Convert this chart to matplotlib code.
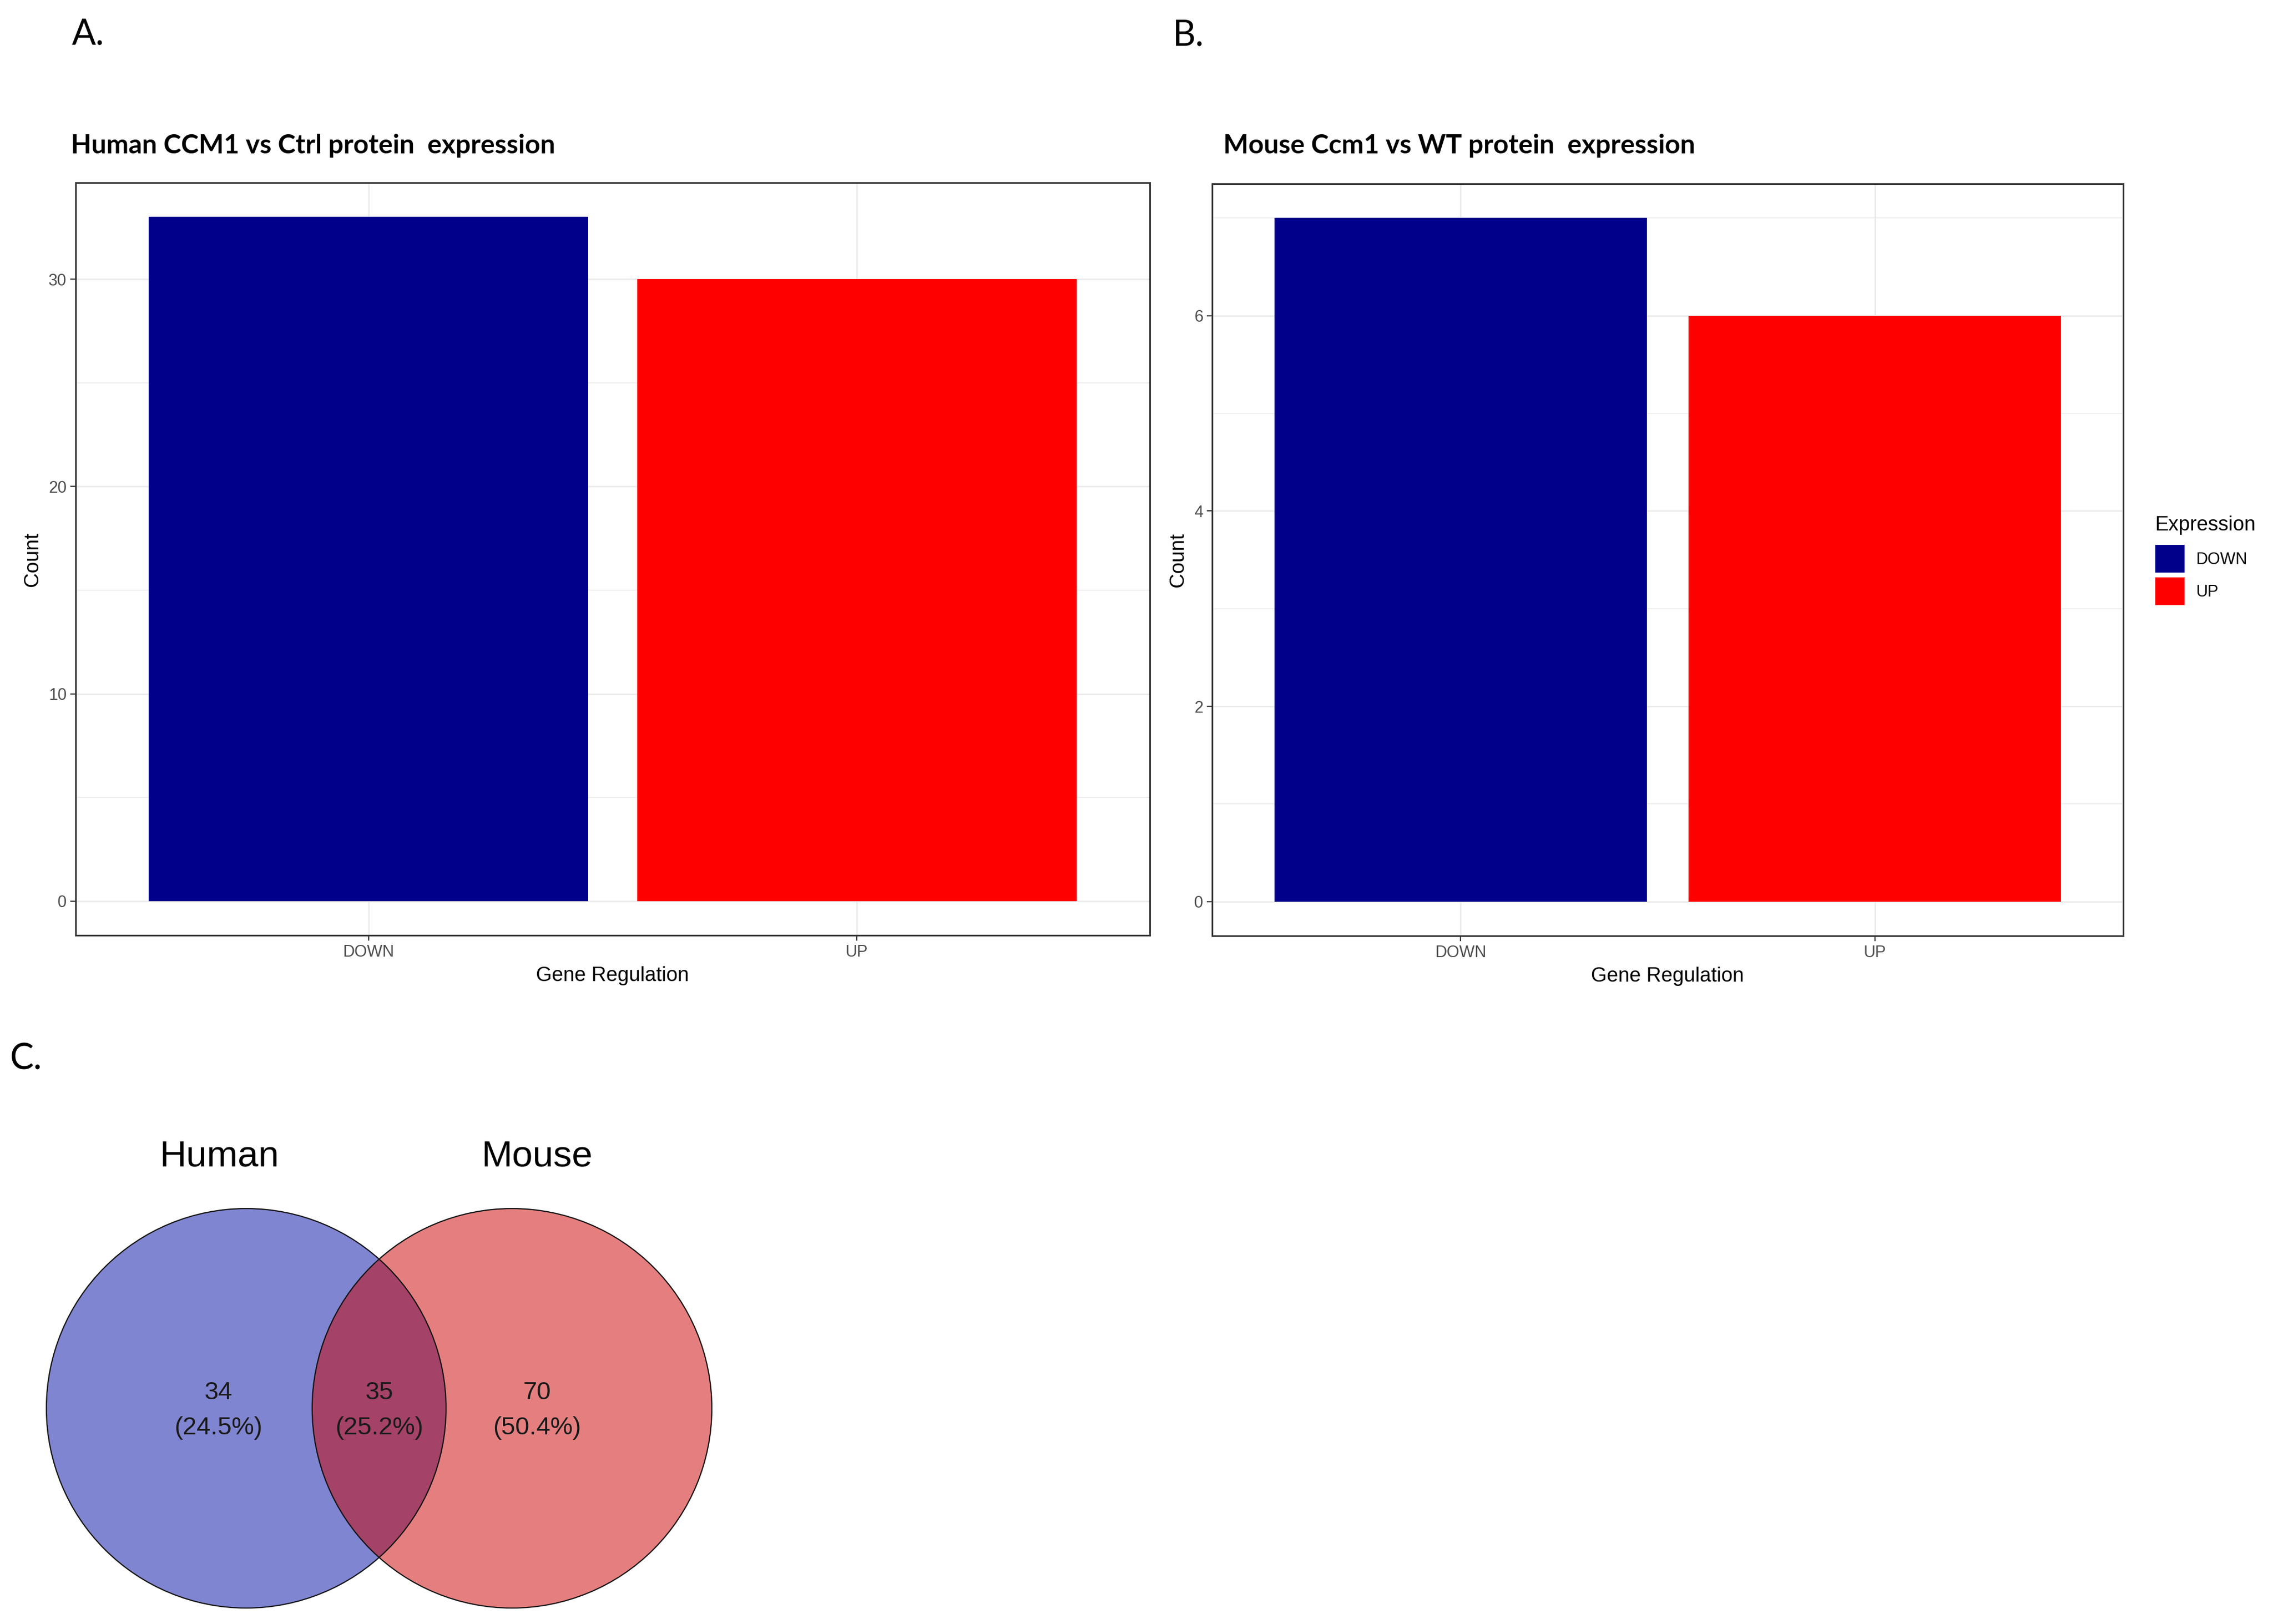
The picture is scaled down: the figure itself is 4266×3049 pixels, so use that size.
import numpy as np
import matplotlib.pyplot as plt
from matplotlib.patches import Circle
from matplotlib.ticker import MultipleLocator

categories = ["DOWN", "UP"]
human_counts = [33, 30]
mouse_counts = [7, 6]
bar_colors = ["#00008B", "#FF0000"]

venn_names = ["Human", "Mouse"]
venn_counts = [34, 35, 70]   # human only, shared, mouse only
venn_colors = ["#000CA2", "#CC0000"]

plt.rcParams['font.family'] = ['Liberation Sans', 'DejaVu Sans']

W, H = 4266, 3049
DPI = 100
fig = plt.figure(figsize=(W / DPI, H / DPI), dpi=DPI)


def px_axes(x0, y0, x1, y1):
    return fig.add_axes([x0 / W, 1 - y1 / H, (x1 - x0) / W, (y1 - y0) / H])


def bar_panel(ax, counts, step):
    x = np.arange(len(categories))
    bars = ax.bar(x, counts, width=0.9, color=bar_colors, zorder=3)
    top = max(counts)
    ax.set_xlim(-0.6, len(categories) - 1 + 0.6)
    ax.set_ylim(-0.05 * top, 1.05 * top)
    ax.set_xticks(x, categories)
    ax.yaxis.set_major_locator(MultipleLocator(step))
    ax.yaxis.set_minor_locator(MultipleLocator(step / 2))
    ax.grid(which='major', color='#EBEBEB', lw=2.0)
    ax.grid(which='minor', axis='y', color='#EBEBEB', lw=1.2)
    ax.set_axisbelow(True)
    ax.tick_params(which='major', length=7, width=1.6, color='#333333',
                   labelsize=22, labelcolor='#4D4D4D', pad=5)
    ax.tick_params(which='minor', length=0)
    for s in ax.spines.values():
        s.set_color('#333333')
        s.set_linewidth(2.2)
    ax.set_xlabel("Gene Regulation", fontsize=27.5, labelpad=8)
    ax.set_ylabel("Count", fontsize=27.5, labelpad=9)
    return bars


ax_a = px_axes(142, 343, 2158, 1756)
bar_panel(ax_a, human_counts, 10)

ax_b = px_axes(2275, 345, 3985, 1757)
bars_b = bar_panel(ax_b, mouse_counts, 2)

leg = ax_b.legend(bars_b.patches, categories, title="Expression",
                  loc='upper left', bbox_to_anchor=(4045 / W, 1 - 968 / H),
                  bbox_transform=fig.transFigure, frameon=False,
                  fontsize=22, title_fontsize=27.5, borderpad=0,
                  handlelength=1.8, handleheight=2.2, labelspacing=0.32,
                  handletextpad=0.7, borderaxespad=0)
leg._legend_box.align = "left"
leg._legend_box.sep = 14

title_font = ['Lato', 'DejaVu Sans']
fig.text(133 / W, 1 - 273 / H, "Human CCM1 vs Ctrl protein  expression",
         family=title_font, weight='bold', fontsize=36, va='center', ha='left')
fig.text(2296 / W, 1 - 273 / H, "Mouse Ccm1 vs WT protein  expression",
         family=title_font, weight='bold', fontsize=36, va='center', ha='left')
fig.text(135 / W, 1 - 64 / H, "A.", family=title_font, fontsize=48, va='center', ha='left')
fig.text(2201 / W, 1 - 67 / H, "B.", family=title_font, fontsize=48, va='center', ha='left')
fig.text(19 / W, 1 - 1988 / H, "C.", family=title_font, fontsize=48, va='center', ha='left')

# Venn diagram, one unit = circle radius (375 px)
ax_c = px_axes(0, 2050, 1450, 3049)
ax_c.set_xlim(-1.897, 1.969)
ax_c.set_ylim(-1.08, 1.584)
ax_c.axis('off')
centers = [-0.665, 0.665]
for cx, col in zip(centers, venn_colors):
    ax_c.add_patch(Circle((cx, 0), 1.0, facecolor=col, alpha=0.5, edgecolor='none'))
for cx in centers:
    ax_c.add_patch(Circle((cx, 0), 1.0, facecolor='none', edgecolor='#111111', lw=1.6))

total = sum(venn_counts)
text_x = [-0.805, 0.0, 0.79]
for tx, n in zip(text_x, venn_counts):
    ax_c.text(tx, 0.077, f"{n}", ha='center', va='center', fontsize=34, color='#1a1a1a')
    ax_c.text(tx, -0.099, f"({100 * n / total:.1f}%)", ha='center', va='center',
              fontsize=34, color='#1a1a1a')

for lx, name in zip([-0.80, 0.79], venn_names):
    ax_c.text(lx, 1.261, name, ha='center', va='center', fontsize=50, color='black')

fig.savefig("out.png", dpi=DPI, facecolor='white')
